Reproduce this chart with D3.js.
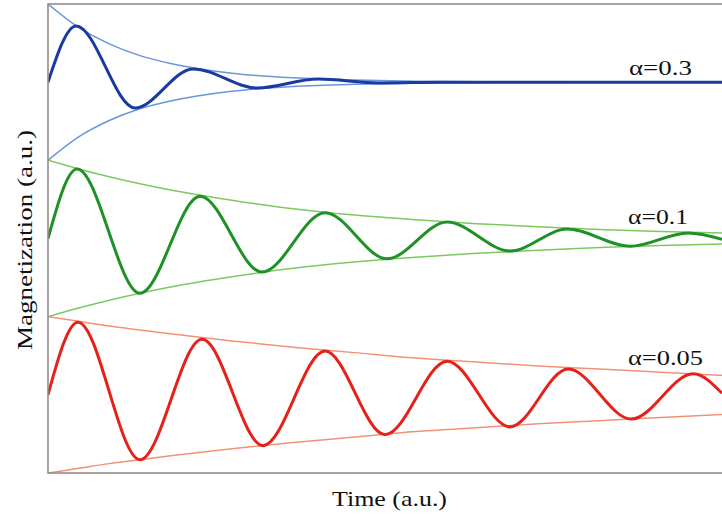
<!DOCTYPE html>
<html>
<head>
<meta charset="utf-8">
<style>
  body { margin: 0; background: #fff; }
  svg { display: block; }
  text { font-family: "Times New Roman", Times, "Liberation Serif", serif; fill: #111; }
</style>
</head>
<body>
<div id="chart"></div>
<script src="https://d3js.org/d3.v7.min.js"></script>
<script>
  // [time, magnetization] at start, each peak / dip, end
  const blueCurve = [[0, 0], [0.229, 0.72], [0.71, -0.33], [1.184, 0.17], [1.706, -0.075],
                     [2.204, 0.04], [2.7, -0.01], [3.2, 0], [5.5, 0]];
  const greenCurve = [[0, 0], [0.237, 0.89], [0.751, -0.70], [1.241, 0.54], [1.747, -0.43],
                      [2.261, 0.33], [2.767, -0.26], [3.257, 0.21], [3.771, -0.16],
                      [4.237, 0.12], [4.751, -0.10], [5.224, 0.07], [5.5, -0.01]];
  const redCurve = [[0, 0], [0.245, 0.93], [0.751, -0.83], [1.257, 0.71], [1.755, -0.65],
                    [2.261, 0.56], [2.751, -0.51], [3.257, 0.43], [3.771, -0.41],
                    [4.245, 0.33], [4.759, -0.31], [5.265, 0.27], [5.5, 0.02]];

  // envelope half-widths
  const envTime  = [0, 0.25, 0.5, 0.75, 1, 1.5, 2, 2.5, 3, 3.5, 4, 4.5, 5, 5.5];
  const blueEnv  = [1, 0.70, 0.49, 0.34, 0.24, 0.115, 0.055, 0.027, 0.013, 0.006, 0.003, 0.0015, 0.001, 0];
  const greenEnv = [1, 0.89, 0.79, 0.70, 0.62, 0.49, 0.38, 0.30, 0.24, 0.19, 0.15, 0.115, 0.09, 0.07];
  const redEnv   = [1, 0.94, 0.88, 0.83, 0.78, 0.69, 0.61, 0.54, 0.47, 0.42, 0.37, 0.33, 0.29, 0.25];

  const labels = ['α=0.3', 'α=0.1', 'α=0.05'];
  const offsets = [4, 2, 0];

  const series = [
    { curve: blueCurve,  env: blueEnv,  c: '#1b3a9f', e: '#6a96dc', label: labels[0], off: offsets[0], lx: 629, lw: 63, ly: 75 },
    { curve: greenCurve, env: greenEnv, c: '#1e9127', e: '#7dc960', label: labels[1], off: offsets[1], lx: 628, lw: 60, ly: 224 },
    { curve: redCurve,   env: redEnv,   c: '#e52119', e: '#f39175', label: labels[2], off: offsets[2], lx: 628, lw: 75, ly: 365 }
  ];

  const W = 722, H = 519;
  const svg = d3.select('#chart').append('svg')
                .attr('width', W)
                .attr('height', H);

  const x = d3.scaleLinear().domain([0, 5.5]).range([48, 722]);
  const y = d3.scaleLinear().domain([-1, 5]).range([473, 4]);

  const line = d3.line()
                 .x(d => x(d[0]))
                 .y(d => y(d[1]))
                 .curve(d3.curveMonotoneX);

  svg.append('defs').append('clipPath').attr('id', 'clip')
     .append('rect')
     .attr('x', x(0)).attr('y', 0)
     .attr('width', W - x(0)).attr('height', H);

  const plot = svg.append('g').attr('clip-path', 'url(#clip)');

  series.forEach(s => {
    const up = envTime.map((t, i) => [t, s.off + s.env[i]]);
    const lo = envTime.map((t, i) => [t, s.off - s.env[i]]);
    [up, lo].forEach(pts => {
      plot.append('path')
          .attr('d', line(pts))
          .attr('fill', 'none')
          .attr('stroke', s.e)
          .attr('stroke-width', 1.5);
    });
  });

  series.forEach(s => {
    plot.append('path')
        .attr('d', line(s.curve.map(d => [d[0], s.off + d[1]])))
        .attr('fill', 'none')
        .attr('stroke', s.c)
        .attr('stroke-width', 3);
  });

  // frame
  svg.append('rect')
     .attr('x', x(0))
     .attr('y', y(5))
     .attr('width', W + 10 - x(0))
     .attr('height', y(-1) - y(5))
     .attr('fill', 'none')
     .attr('stroke', '#978c86')
     .attr('stroke-width', 1.6);

  series.forEach(s => {
    svg.append('text')
       .attr('x', s.lx)
       .attr('y', s.ly)
       .attr('font-size', 22)
       .attr('textLength', s.lw)
       .attr('lengthAdjust', 'spacingAndGlyphs')
       .text(s.label);
  });

  svg.append('text')
     .attr('x', 332)
     .attr('y', 506)
     .attr('font-size', 22)
     .attr('textLength', 115)
     .attr('lengthAdjust', 'spacingAndGlyphs')
     .text('Time (a.u.)');

  svg.append('text')
     .attr('transform', 'translate(32,350) rotate(-90)')
     .attr('font-size', 22)
     .attr('textLength', 220)
     .attr('lengthAdjust', 'spacingAndGlyphs')
     .text('Magnetization (a.u.)');
</script>
</body>
</html>
